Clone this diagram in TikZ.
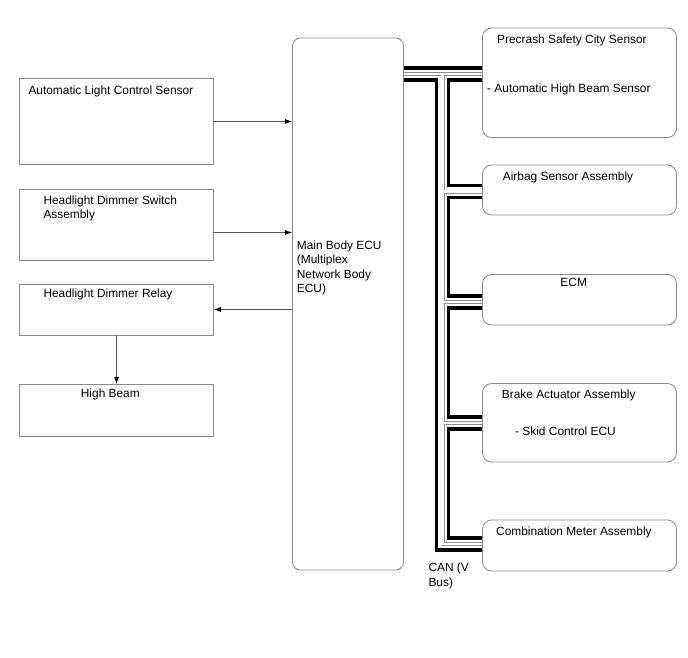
\documentclass[tikz,border=0pt]{standalone}
\usepackage{fontspec}
\setmainfont{Liberation Sans}
\usetikzlibrary{arrows.meta}
\definecolor{boxgray}{HTML}{8A8A8A}
\definecolor{linegray}{HTML}{5A5A5A}
\definecolor{busgray}{HTML}{909090}
\begin{document}
\begin{tikzpicture}[x=1pt,y=-1pt,
  box/.style={draw=boxgray, line width=0.8pt, fill=white, inner sep=0pt, minimum width=194pt},
  rbox/.style={box, rounded corners=9pt},
  txt/.style={anchor=north west, inner sep=0pt, align=left, font=\fontsize{11.9}{14.5}\selectfont},
  arr/.style={draw=linegray, line width=0.7pt, -{Latex[length=7pt,width=5pt,color=black]}}]
\useasboundingbox (0,0) rectangle (688,658);

% left boxes
\node[box, minimum height=86pt] (alcs) at (116.5,121.5) {};
\node[box, minimum height=71pt] (hdsa) at (116.5,224.5) {};
\node[box, minimum height=51pt] (hdr) at (116.5,309.5) {};
\node[box, minimum height=51.5pt] (hb) at (116.5,410.25) {};
% ECU
\node[box, rounded corners=8pt, minimum width=111pt, minimum height=532pt] (ecu) at (348,304) {};
% right boxes
\node[rbox, minimum height=109.5pt] (pre) at (579.5,82.75) {};
\node[rbox, minimum height=50pt] (air) at (579.5,190) {};
\node[rbox, minimum height=50.5pt] (ecm) at (579.5,299.75) {};
\node[rbox, minimum height=78.5pt] (brk) at (579.5,422.75) {};
\node[rbox, minimum height=51pt] (com) at (579.5,545.5) {};

% texts
\node[txt] (alcsT) at (28.3,85.4) {Automatic Light Control Sensor};
\node[txt] (hdsaT) at (43.3,195.4) {Headlight Dimmer Switch\\Assembly};
\node[txt] (hdrT) at (43.3,288.7) {Headlight Dimmer Relay};
\node[txt] (hbT) at (80.7,388.4) {High Beam};
\node[txt] (ecuT) at (296.7,240.4) {Main Body ECU\\(Multiplex\\Network Body\\ECU)};
\node[txt] (preT) at (497,34.7) {Precrash Safety City Sensor};
\node[txt] (preS) at (487,84.1) {- Automatic High Beam Sensor};
\node[txt] (airT) at (502.7,172.1) {Airbag Sensor Assembly};
\node[txt, anchor=north] (ecmT) at (573.7,278.1) {ECM};
\node[txt] (brkT) at (501.7,389.7) {Brake Actuator Assembly};
\node[txt] (brkS) at (515,427.1) {- Skid Control ECU};
\node[txt] (comT) at (496,527) {Combination Meter Assembly};
\node[txt] (canT) at (428.3,563.1) {CAN (V\\Bus)};

% arrows
\coordinate (a1) at (alcs.east);
\draw[arr] (a1) -- (a1 -| ecu.west);
\coordinate (a2) at ([yshift=-8pt]hdsa.east);
\draw[arr] (a2) -- (a2 -| ecu.west);
\draw[arr] (ecu.west |- hdr.east) -- (hdr.east);
\draw[arr] (hdr.south) -- (hb.north);

% CAN bus
\coordinate (bT) at (442.5,74);
\coordinate (bB) at (442.5,544);
\coordinate (jA) at (442.5,191.5);
\coordinate (jE) at (442.5,302);
\coordinate (jB) at (442.5,423);
\foreach \w/\c in {15.5/black, 8.5/white, 4/busgray, 2.4/white}
  \draw[line width=\w pt, draw=\c, line cap=butt, line join=miter]
    (ecu.east |- bT) -- (bT -| pre.west)
    (bT) -- (bB) -- (bB -| com.west)
    (jA) -- (jA -| air.west)
    (jE) -- (jE -| ecm.west)
    (jB) -- (jB -| brk.west);
\end{tikzpicture}
\end{document}
